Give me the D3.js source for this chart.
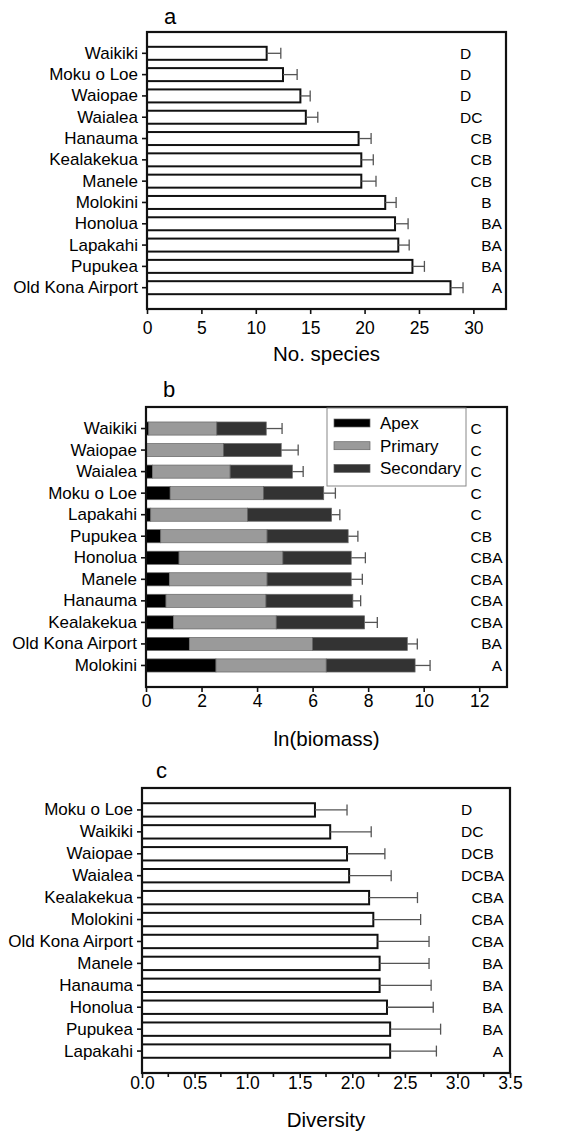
<!DOCTYPE html>
<html><head><meta charset="utf-8">
<script src="https://cdn.jsdelivr.net/npm/d3@7/dist/d3.min.js"></script>
<style>
body{margin:0;background:#fff}
svg text{font-family:"Liberation Sans",Arial,Helvetica,sans-serif;fill:#000}
</style>
</head><body>
<svg id="chart" width="578" height="1133"></svg>
<script>
// ---------- Panel a: number of species ----------
const sitesA = ["Waikiki","Moku o Loe","Waiopae","Waialea","Hanauma","Kealakekua","Manele","Molokini","Honolua","Lapakahi","Pupukea","Old Kona Airport"];
const speciesMean = [11.0,12.5,14.1,14.6,19.45,19.7,19.7,21.9,22.8,23.1,24.4,27.9];
const speciesSE   = [1.3,1.3,0.9,1.1,1.15,1.1,1.35,1.0,1.2,1.0,1.1,1.15];
const lettersA    = ["D","D","D","DC","CB","CB","CB","B","BA","BA","BA","A"];
const ticksA      = [0,5,10,15,20,25,30];

// ---------- Panel b: ln(biomass) by trophic group ----------
const sitesB    = ["Waikiki","Waiopae","Waialea","Moku o Loe","Lapakahi","Pupukea","Honolua","Manele","Hanauma","Kealakekua","Old Kona Airport","Molokini"];
const apex      = [0.10,0.02,0.23,0.87,0.17,0.53,1.19,0.84,0.72,0.99,1.56,2.52];
const primary   = [2.45,2.77,2.80,3.36,3.49,3.83,3.74,3.52,3.60,3.70,4.44,3.97];
const secondary = [1.78,2.08,2.24,2.17,3.02,2.92,2.46,3.03,3.13,3.18,3.41,3.20];
const biomassSE = [0.57,0.61,0.39,0.42,0.30,0.35,0.51,0.40,0.28,0.46,0.36,0.54];
const lettersB  = ["C","C","C","C","C","CB","CBA","CBA","CBA","CBA","BA","A"];
const groupsB   = ["Apex","Primary","Secondary"];
const ticksB    = [0,2,4,6,8,10,12];

// ---------- Panel c: diversity ----------
const sitesC    = ["Moku o Loe","Waikiki","Waiopae","Waialea","Kealakekua","Molokini","Old Kona Airport","Manele","Hanauma","Honolua","Pupukea","Lapakahi"];
const diversity = [1.645,1.79,1.95,1.97,2.16,2.20,2.24,2.26,2.26,2.33,2.36,2.36];
const diversitySE = [0.305,0.39,0.36,0.40,0.46,0.45,0.49,0.47,0.49,0.44,0.48,0.44];
const lettersC  = ["D","DC","DCB","DCBA","CBA","CBA","CBA","BA","BA","BA","BA","A"];
const ticksC    = [0,0.5,1.0,1.5,2.0,2.5,3.0,3.5];
const minorTicksC = [0.25,0.75,1.25,1.75,2.25,2.75,3.25];

const svg = d3.select("#chart");
const letterCols = {D:0,C:1,B:2,A:3};
const colors = {Apex:"#000000",Primary:"#9a9a9a",Secondary:"#333333"};

function panel(o){
  const g = svg.append("g");
  const x = d3.scaleLinear().domain(o.xDomain).range([o.left,o.right]);
  const y = d3.scaleBand().domain(o.sites).range([o.top,o.bottom]).paddingInner(0.39).paddingOuter(0.695);

  if(o.stack){
    const rows = o.sites.map((s,i)=>({site:s,Apex:apex[i],Primary:primary[i],Secondary:secondary[i]}));
    const series = d3.stack().keys(groupsB)(rows);
    series.forEach(sr=>{
      g.append("g").selectAll("rect").data(sr).join("rect")
        .attr("x",d=>x(d[0])).attr("width",d=>Math.max(0,x(d[1])-x(d[0])))
        .attr("y",d=>y(d.data.site)).attr("height",y.bandwidth())
        .attr("fill",colors[sr.key]).attr("stroke","#666").attr("stroke-width",0.7);
    });
  } else {
    g.append("g").selectAll("rect").data(o.values).join("rect")
      .attr("x",x(0)).attr("width",d=>x(d)-x(0))
      .attr("y",(d,i)=>y(o.sites[i])).attr("height",y.bandwidth())
      .attr("fill","#fff").attr("stroke","#111").attr("stroke-width",2);
  }
  const eb = g.append("g").attr("stroke","#555").attr("stroke-width",1.3);
  o.totals.forEach((v,i)=>{
    const cy = y(o.sites[i]) + y.bandwidth()/2;
    const x1 = x(v), x2 = x(v+o.se[i]);
    eb.append("line").attr("x1",x1).attr("x2",x2).attr("y1",cy).attr("y2",cy);
    eb.append("line").attr("x1",x2).attr("x2",x2).attr("y1",cy-5.5).attr("y2",cy+5.5);
  });
  g.append("g").selectAll("text").data(o.letters).join("text")
    .attr("x",d=>o.letterX + letterCols[d[0]]*10.6)
    .attr("y",(d,i)=>y(o.sites[i]) + y.bandwidth()/2 + 5.5)
    .attr("font-size",15.5).text(d=>d);

  const xa = g.append("g").attr("transform",`translate(0,${o.bottom})`)
    .call(d3.axisBottom(x).tickValues(o.ticks).tickSize(5).tickFormat(o.fmt));
  xa.select(".domain").remove();
  xa.selectAll("line").attr("stroke","#111").attr("stroke-width",1.6);
  xa.selectAll("text").attr("font-size",17.5).attr("fill","#000").attr("y",o.tickY).attr("dy","0.36em");
  if(o.minor){
    g.append("g").selectAll("line").data(o.minor).join("line")
      .attr("x1",d=>x(d)).attr("x2",d=>x(d)).attr("y1",o.bottom).attr("y2",o.bottom+4)
      .attr("stroke","#111").attr("stroke-width",1.6);
  }
  const ya = g.append("g").attr("transform",`translate(${o.left},0)`)
    .call(d3.axisLeft(y).tickSize(5).tickPadding(4));
  ya.select(".domain").remove();
  ya.selectAll("line").attr("stroke","#111").attr("stroke-width",1.6);
  ya.selectAll("text").attr("font-size",17).attr("fill","#000");

  g.append("rect").attr("x",o.left).attr("y",o.top).attr("width",o.right-o.left).attr("height",o.bottom-o.top)
    .attr("fill","none").attr("stroke","#111").attr("stroke-width",2.2);

  g.append("text").attr("x",o.labelX).attr("y",o.labelY).attr("font-size",22).text(o.label);
  g.append("text").attr("x",(o.left+o.right)/2).attr("y",o.titleY).attr("text-anchor","middle")
    .attr("font-size",20.5).text(o.title);
  return {g,x,y};
}

panel({sites:sitesA,values:speciesMean,totals:speciesMean,se:speciesSE,letters:lettersA,
  xDomain:[0,33],left:147,right:506,top:32,bottom:309,ticks:ticksA,fmt:d3.format("d"),tickY:19,
  letterX:460,label:"a",labelX:164,labelY:24,title:"No. species",titleY:361});

const totB = apex.map((a,i)=>a+primary[i]+secondary[i]);
const pb = panel({sites:sitesB,stack:true,totals:totB,se:biomassSE,letters:lettersB,
  xDomain:[0,13],left:146,right:507,top:407,bottom:687,ticks:ticksB,fmt:d3.format("d"),tickY:14,
  letterX:460,label:"b",labelX:163,labelY:397,title:"ln(biomass)",titleY:746});

const lg = pb.g.append("g");
lg.append("rect").attr("x",327).attr("y",408).attr("width",139).attr("height",78)
  .attr("fill","#fff").attr("stroke","#888").attr("stroke-width",1);
groupsB.forEach((k,i)=>{
  const cy = 423 + i*22.7;
  lg.append("rect").attr("x",334).attr("y",cy-4).attr("width",36).attr("height",8)
    .attr("fill",colors[k]).attr("stroke","#666").attr("stroke-width",0.7);
  lg.append("text").attr("x",380).attr("y",cy+6).attr("font-size",17).text(k);
});

panel({sites:sitesC,values:diversity,totals:diversity,se:diversitySE,letters:lettersC,
  xDomain:[0,3.5],left:142,right:510,top:788,bottom:1073,ticks:ticksC,fmt:d3.format(".1f"),tickY:10,minor:minorTicksC,
  letterX:461,label:"c",labelX:156,labelY:778,title:"Diversity",titleY:1127});
</script>
</body></html>
